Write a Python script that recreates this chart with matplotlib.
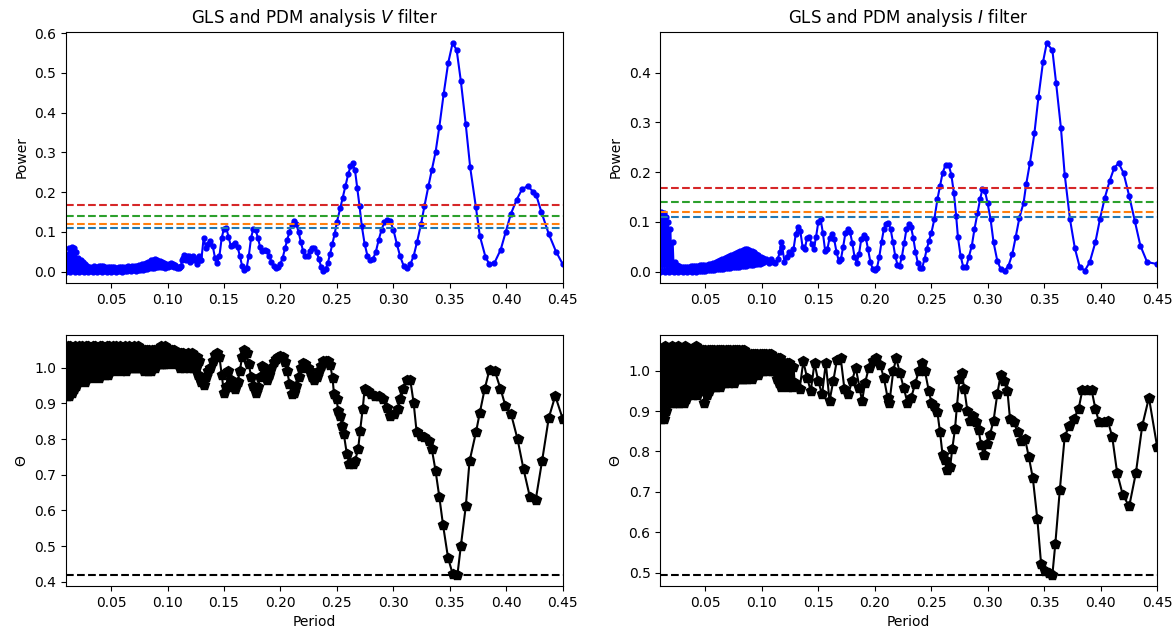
import matplotlib
matplotlib.use("Agg")
import matplotlib.pyplot as plt

# ---- GLS periodogram, V filter ----
v_gls_period = [
    0.010, 0.011, 0.012, 0.013, 0.014, 0.015, 0.016, 0.017, 0.018, 0.019,
    0.020, 0.021, 0.022, 0.023, 0.024, 0.025, 0.026, 0.027, 0.028, 0.029,
    0.030, 0.031, 0.032, 0.033, 0.034, 0.035, 0.036, 0.037, 0.038, 0.039,
    0.040, 0.041, 0.042, 0.043, 0.044, 0.045, 0.046, 0.047, 0.048, 0.049,
    0.050, 0.051, 0.052, 0.053, 0.054, 0.055, 0.056, 0.057, 0.058, 0.059,
    0.060, 0.061, 0.062, 0.063, 0.064, 0.065, 0.066, 0.067, 0.068, 0.069,
    0.070, 0.071, 0.072, 0.073, 0.074, 0.075, 0.076, 0.077, 0.078, 0.079,
    0.080, 0.081, 0.082, 0.083, 0.084, 0.085, 0.086, 0.087, 0.088, 0.089,
    0.090, 0.091, 0.092, 0.093, 0.094, 0.095, 0.096, 0.097, 0.098, 0.099,
    0.100, 0.101, 0.102, 0.103, 0.104, 0.105, 0.106, 0.107, 0.108, 0.109,
    0.110, 0.111, 0.112, 0.113, 0.114, 0.115, 0.116, 0.117, 0.118, 0.119,
    0.120, 0.121, 0.122, 0.123, 0.124, 0.125, 0.126, 0.127, 0.128, 0.129,
    0.130, 0.132, 0.134, 0.136, 0.138, 0.140, 0.142, 0.144, 0.146, 0.148,
    0.150, 0.152, 0.154, 0.156, 0.158, 0.160, 0.162, 0.164, 0.166, 0.168,
    0.170, 0.172, 0.174, 0.176, 0.178, 0.180, 0.182, 0.184, 0.186, 0.188,
    0.190, 0.192, 0.194, 0.196, 0.198, 0.200, 0.202, 0.204, 0.206, 0.208,
    0.210, 0.212, 0.214, 0.216, 0.218, 0.220, 0.222, 0.224, 0.226, 0.228,
    0.230, 0.232, 0.234, 0.236, 0.238, 0.240, 0.242, 0.244, 0.246, 0.248,
    0.250, 0.2530, 0.2550, 0.2575, 0.2600, 0.2620, 0.2640,
    0.2660, 0.2680, 0.2700, 0.2720, 0.2745, 0.2770, 0.2795, 0.2820, 0.2845, 0.2870,
    0.2895, 0.2920, 0.2945, 0.2970, 0.3000, 0.3030, 0.3060, 0.3090, 0.3120, 0.3150,
    0.3180, 0.3210, 0.3245, 0.3275, 0.3310, 0.3340, 0.3373, 0.3407, 0.3445, 0.3485,
    0.3524, 0.3560, 0.3597, 0.3640, 0.3680, 0.3730, 0.3765, 0.3815, 0.3850, 0.3895,
    0.3950, 0.3995, 0.4040, 0.4090, 0.4140, 0.4190, 0.4240, 0.4265, 0.4310, 0.4375,
    0.4440, 0.4500]
v_gls_power = [
    0.000, 0.045, 0.002, 0.058, 0.000, 0.062, 0.003, 0.058, 0.000, 0.050,
    0.002, 0.035, 0.000, 0.030, 0.002, 0.025, 0.000, 0.020, 0.001, 0.014,
    0.000, 0.012, 0.002, 0.010, 0.000, 0.013, 0.001, 0.012, 0.000, 0.014,
    0.002, 0.015, 0.000, 0.013, 0.001, 0.011, 0.000, 0.012, 0.002, 0.012,
    0.000, 0.011, 0.002, 0.012, 0.000, 0.010, 0.001, 0.012, 0.002, 0.011,
    0.000, 0.012, 0.002, 0.011, 0.001, 0.013, 0.003, 0.012, 0.002, 0.013,
    0.003, 0.014, 0.002, 0.015, 0.004, 0.016, 0.003, 0.018, 0.005, 0.020,
    0.006, 0.022, 0.007, 0.025, 0.008, 0.028, 0.009, 0.030, 0.010, 0.031,
    0.011, 0.030, 0.012, 0.027, 0.012, 0.025, 0.011, 0.022, 0.010, 0.020,
    0.012, 0.020, 0.013, 0.022, 0.014, 0.020, 0.012, 0.016, 0.010, 0.012,
    0.008, 0.012, 0.015, 0.030, 0.035, 0.042, 0.030, 0.038, 0.032, 0.040,
    0.025, 0.035, 0.030, 0.038, 0.028, 0.030, 0.020, 0.035, 0.040, 0.030,
    0.030, 0.085, 0.060, 0.070, 0.078, 0.065, 0.035, 0.022, 0.040, 0.085,
    0.108, 0.110, 0.088, 0.065, 0.068, 0.072, 0.062, 0.040, 0.015, 0.005,
    0.008, 0.040, 0.085, 0.108, 0.105, 0.085, 0.062, 0.052, 0.055, 0.052,
    0.040, 0.025, 0.014, 0.010, 0.012, 0.020, 0.035, 0.058, 0.080, 0.100,
    0.118, 0.127, 0.120, 0.100, 0.075, 0.052, 0.038, 0.040, 0.052, 0.060,
    0.058, 0.050, 0.032, 0.012, 0.001, 0.006, 0.022, 0.045, 0.070, 0.095,
    0.125, 0.160, 0.185, 0.215, 0.245, 0.265, 0.272,
    0.255, 0.210, 0.165, 0.115, 0.070, 0.040, 0.028, 0.032, 0.050, 0.080,
    0.105, 0.125, 0.130, 0.128, 0.105, 0.070, 0.038, 0.015, 0.008, 0.018,
    0.040, 0.075, 0.120, 0.165, 0.215, 0.255, 0.300, 0.365, 0.447, 0.525,
    0.575, 0.558, 0.480, 0.372, 0.262, 0.163, 0.090, 0.037, 0.018, 0.022,
    0.055, 0.100, 0.145, 0.180, 0.208, 0.215, 0.200, 0.192, 0.150, 0.095,
    0.050, 0.018]

# ---- GLS periodogram, I filter ----
i_gls_period = [
    0.010, 0.011, 0.012, 0.013, 0.014, 0.015, 0.016, 0.017, 0.018, 0.019,
    0.020, 0.021, 0.022, 0.023, 0.024, 0.025, 0.026, 0.027, 0.028, 0.029,
    0.030, 0.031, 0.032, 0.033, 0.034, 0.035, 0.036, 0.037, 0.038, 0.039,
    0.040, 0.041, 0.042, 0.043, 0.044, 0.045, 0.046, 0.047, 0.048, 0.049,
    0.050, 0.051, 0.052, 0.053, 0.054, 0.055, 0.056, 0.057, 0.058, 0.059,
    0.060, 0.061, 0.062, 0.063, 0.064, 0.065, 0.066, 0.067, 0.068, 0.069,
    0.070, 0.071, 0.072, 0.073, 0.074, 0.075, 0.076, 0.077, 0.078, 0.079,
    0.080, 0.081, 0.082, 0.083, 0.084, 0.085, 0.086, 0.087, 0.088, 0.089,
    0.090, 0.091, 0.092, 0.093, 0.094, 0.095, 0.096, 0.097, 0.098, 0.099,
    0.100, 0.101, 0.102, 0.104, 0.106, 0.108, 0.110, 0.112, 0.114, 0.116,
    0.117, 0.118, 0.120, 0.122, 0.124, 0.126, 0.128, 0.130, 0.132, 0.134,
    0.136, 0.138, 0.140, 0.142, 0.144, 0.146, 0.148, 0.150, 0.152, 0.154,
    0.156, 0.158, 0.160, 0.162, 0.164, 0.166, 0.168, 0.170, 0.172, 0.174,
    0.176, 0.178, 0.180, 0.182, 0.184, 0.186, 0.188, 0.190, 0.192, 0.194,
    0.196, 0.198, 0.200, 0.202, 0.204, 0.206, 0.208, 0.210, 0.212, 0.214,
    0.216, 0.218, 0.220, 0.222, 0.224, 0.226, 0.228, 0.230, 0.232, 0.234,
    0.236, 0.238, 0.240, 0.242, 0.244, 0.246, 0.248,
    0.2501, 0.2527, 0.2554, 0.2577, 0.2600, 0.2627, 0.2653, 0.2677, 0.2700, 0.2720,
    0.2736, 0.2759, 0.2783, 0.2809, 0.2832, 0.2859, 0.2882, 0.2909, 0.2932, 0.2952,
    0.2975, 0.2998, 0.3025, 0.3051, 0.3084, 0.3114, 0.3151, 0.3184, 0.3217, 0.3247,
    0.3280, 0.3317, 0.3340, 0.3373, 0.3413, 0.3449, 0.3489, 0.3522, 0.3572, 0.3605,
    0.3648, 0.3681, 0.3728, 0.3771, 0.3814, 0.3860, 0.3903, 0.3953, 0.3993, 0.4036,
    0.4079, 0.4119, 0.4159, 0.4202, 0.4252, 0.4301, 0.4351, 0.4411, 0.4500]
i_gls_power = [
    0.000, 0.120, 0.002, 0.118, 0.000, 0.110, 0.003, 0.100, 0.000, 0.085,
    0.002, 0.060, 0.000, 0.020, 0.002, 0.013, 0.000, 0.011, 0.001, 0.010,
    0.000, 0.010, 0.001, 0.009, 0.000, 0.010, 0.001, 0.011, 0.000, 0.011,
    0.001, 0.012, 0.000, 0.012, 0.002, 0.013, 0.001, 0.013, 0.002, 0.014,
    0.002, 0.014, 0.003, 0.015, 0.003, 0.016, 0.004, 0.017, 0.004, 0.019,
    0.005, 0.021, 0.005, 0.023, 0.006, 0.025, 0.006, 0.027, 0.007, 0.030,
    0.007, 0.032, 0.008, 0.034, 0.009, 0.036, 0.009, 0.038, 0.010, 0.040,
    0.010, 0.042, 0.011, 0.044, 0.012, 0.045, 0.012, 0.045, 0.013, 0.044,
    0.013, 0.042, 0.014, 0.040, 0.015, 0.036, 0.015, 0.033, 0.016, 0.030,
    0.017, 0.028, 0.020, 0.025, 0.018, 0.026, 0.020, 0.018, 0.025, 0.040,
    0.060, 0.050, 0.020, 0.030, 0.040, 0.035, 0.045, 0.075, 0.090, 0.082,
    0.050, 0.045, 0.068, 0.070, 0.055, 0.045, 0.070, 0.100, 0.105, 0.078,
    0.042, 0.045, 0.068, 0.075, 0.065, 0.040, 0.022, 0.025, 0.050, 0.078,
    0.086, 0.080, 0.058, 0.030, 0.018, 0.035, 0.065, 0.074, 0.068, 0.045,
    0.020, 0.006, 0.003, 0.008, 0.030, 0.060, 0.085, 0.096, 0.097, 0.085,
    0.060, 0.032, 0.014, 0.012, 0.030, 0.058, 0.085, 0.095, 0.090, 0.068,
    0.040, 0.018, 0.007, 0.008, 0.025, 0.045, 0.062,
    0.078, 0.105, 0.145, 0.172, 0.198, 0.215, 0.215, 0.195, 0.158, 0.112,
    0.069, 0.032, 0.009, 0.009, 0.029, 0.052, 0.085, 0.118, 0.145, 0.165,
    0.162, 0.138, 0.105, 0.059, 0.022, 0.005, 0.002, 0.012, 0.035, 0.069,
    0.108, 0.138, 0.175, 0.218, 0.278, 0.351, 0.421, 0.459, 0.445, 0.379,
    0.288, 0.195, 0.105, 0.047, 0.009, 0.002, 0.019, 0.059, 0.105, 0.148,
    0.182, 0.208, 0.218, 0.198, 0.152, 0.102, 0.052, 0.019, 0.015]

# ---- PDM theta, V filter ----
v_pdm_period = [
    0.010, 0.011, 0.012, 0.013, 0.014, 0.015, 0.016, 0.017, 0.018, 0.019,
    0.020, 0.021, 0.022, 0.023, 0.024, 0.025, 0.026, 0.027, 0.028, 0.029,
    0.030, 0.031, 0.032, 0.033, 0.034, 0.035, 0.036, 0.037, 0.038, 0.039,
    0.040, 0.041, 0.042, 0.043, 0.044, 0.045, 0.046, 0.047, 0.048, 0.049,
    0.050, 0.051, 0.052, 0.053, 0.054, 0.055, 0.056, 0.057, 0.058, 0.059,
    0.060, 0.061, 0.062, 0.063, 0.064, 0.065, 0.066, 0.067, 0.068, 0.069,
    0.070, 0.071, 0.072, 0.073, 0.074, 0.075, 0.076, 0.077, 0.078, 0.079,
    0.080, 0.081, 0.082, 0.083, 0.084, 0.085, 0.086, 0.087, 0.088, 0.089,
    0.090, 0.091, 0.092, 0.093, 0.094, 0.095, 0.096, 0.097, 0.098, 0.099,
    0.100, 0.101, 0.102, 0.103, 0.104, 0.105, 0.106, 0.107, 0.108, 0.109,
    0.110, 0.111, 0.112, 0.113, 0.114, 0.115, 0.116, 0.117, 0.118, 0.119,
    0.120, 0.121, 0.122, 0.123, 0.124, 0.125, 0.126, 0.127, 0.128, 0.129,
    0.130, 0.132, 0.134, 0.136, 0.138, 0.140, 0.142, 0.144, 0.146, 0.148,
    0.150, 0.152, 0.154, 0.156, 0.158, 0.160, 0.162, 0.164, 0.166, 0.168,
    0.170, 0.172, 0.174, 0.176, 0.178, 0.180, 0.182, 0.184, 0.186, 0.188,
    0.190, 0.192, 0.194, 0.196, 0.198, 0.200, 0.202, 0.204, 0.206, 0.208,
    0.210, 0.212, 0.214, 0.216, 0.218, 0.220, 0.222, 0.224, 0.226, 0.228,
    0.230, 0.232, 0.234, 0.236, 0.238, 0.240, 0.242,
    0.2440, 0.2461, 0.2474, 0.2497, 0.2511, 0.2531, 0.2544, 0.2561, 0.2588, 0.2611,
    0.2638, 0.2661, 0.2688, 0.2705, 0.2728, 0.2745, 0.2771, 0.2805, 0.2838, 0.2872,
    0.2905, 0.2939, 0.2972, 0.3006, 0.3039, 0.3062, 0.3089, 0.3116, 0.3149, 0.3179,
    0.3206, 0.3240, 0.3273, 0.3313, 0.3340, 0.3373, 0.3407, 0.3440, 0.3484, 0.3524,
    0.3567, 0.3597, 0.3641, 0.3674, 0.3731, 0.3765, 0.3808, 0.3851, 0.3898, 0.3948,
    0.3992, 0.4042, 0.4099, 0.4152, 0.4209, 0.4259, 0.4316, 0.4376, 0.4433, 0.4500]
v_pdm_theta = [
    1.05, 0.92, 1.06, 0.92, 1.06, 0.93, 1.05, 0.94, 1.06, 0.95,
    1.05, 0.96, 1.06, 0.97, 1.06, 0.97, 1.05, 0.96, 1.06, 0.97,
    1.06, 0.98, 1.05, 0.97, 1.06, 0.98, 1.06, 0.98, 1.05, 0.97,
    1.06, 0.98, 1.06, 0.99, 1.05, 0.98, 1.06, 0.98, 1.06, 0.99,
    1.05, 1.00, 1.06, 0.99, 1.06, 1.00, 1.05, 1.00, 1.06, 0.99,
    1.05, 1.00, 1.06, 0.99, 1.05, 1.00, 1.06, 1.00, 1.05, 1.00,
    1.06, 1.00, 1.05, 1.00, 1.06, 1.00, 1.05, 1.00, 1.05, 0.99,
    1.05, 1.00, 1.05, 0.99, 1.05, 0.99, 1.05, 1.00, 1.05, 1.00,
    1.05, 1.01, 1.05, 1.01, 1.06, 1.01, 1.05, 1.01, 1.06, 1.01,
    1.05, 1.02, 1.05, 1.02, 1.05, 1.01, 1.05, 1.02, 1.04, 1.01,
    1.04, 1.00, 1.04, 1.01, 1.04, 1.00, 1.03, 1.01, 1.04, 1.00,
    1.03, 1.01, 1.04, 1.00, 1.03, 1.00, 1.03, 0.98, 1.02, 0.97,
    0.960, 0.953, 0.975, 0.990, 1.000, 1.020, 1.035, 1.042, 1.030, 0.980,
    0.930, 0.945, 0.990, 0.965, 0.945, 0.940, 0.960, 0.990, 1.030, 1.050,
    1.040, 1.010, 0.975, 0.950, 0.930, 0.945, 0.975, 1.005, 0.990, 0.965,
    0.980, 1.000, 1.015, 1.025, 1.030, 1.033, 1.030, 1.015, 0.990, 0.955,
    0.926, 0.930, 0.950, 0.975, 1.000, 1.014, 1.010, 1.000, 0.990, 0.975,
    0.967, 0.975, 0.990, 1.005, 1.019, 1.020, 1.020,
    1.009, 0.972, 0.926, 0.912, 0.879, 0.865, 0.837, 0.814, 0.758, 0.730,
    0.730, 0.740, 0.772, 0.823, 0.884, 0.940, 0.935, 0.926, 0.921, 0.921,
    0.912, 0.888, 0.865, 0.870, 0.884, 0.912, 0.940, 0.967, 0.967, 0.902,
    0.819, 0.809, 0.805, 0.795, 0.772, 0.712, 0.637, 0.558, 0.467, 0.423,
    0.420, 0.500, 0.612, 0.738, 0.819, 0.874, 0.940, 0.995, 0.991, 0.941,
    0.893, 0.870, 0.800, 0.716, 0.637, 0.628, 0.738, 0.860, 0.921, 0.856]

# ---- PDM theta, I filter ----
i_pdm_period = [
    0.010, 0.011, 0.012, 0.013, 0.014, 0.015, 0.016, 0.017, 0.018, 0.019,
    0.020, 0.021, 0.022, 0.023, 0.024, 0.025, 0.026, 0.027, 0.028, 0.029,
    0.030, 0.031, 0.032, 0.033, 0.034, 0.035, 0.036, 0.037, 0.038, 0.039,
    0.040, 0.041, 0.042, 0.043, 0.044, 0.045, 0.046, 0.047, 0.048, 0.049,
    0.050, 0.051, 0.052, 0.053, 0.054, 0.055, 0.056, 0.057, 0.058, 0.059,
    0.060, 0.061, 0.062, 0.063, 0.064, 0.065, 0.066, 0.067, 0.068, 0.069,
    0.070, 0.071, 0.072, 0.073, 0.074, 0.075, 0.076, 0.077, 0.078, 0.079,
    0.080, 0.081, 0.082, 0.083, 0.084, 0.085, 0.086, 0.087, 0.088, 0.089,
    0.090, 0.091, 0.092, 0.093, 0.094, 0.095, 0.096, 0.097, 0.098, 0.099,
    0.100, 0.101, 0.102, 0.103, 0.104, 0.105, 0.106, 0.107, 0.108, 0.109,
    0.110, 0.111, 0.112, 0.113, 0.114, 0.115, 0.116, 0.117, 0.118, 0.119,
    0.120, 0.121, 0.122, 0.123, 0.124, 0.125, 0.126, 0.127, 0.128, 0.129,
    0.1334, 0.1367, 0.1400, 0.1433, 0.1466, 0.1499, 0.1533, 0.1566, 0.1599, 0.1632,
    0.1665, 0.1698, 0.1731, 0.1765, 0.1798, 0.1831, 0.1864, 0.1887, 0.1914, 0.1947,
    0.1980, 0.2013, 0.2047, 0.2080, 0.2113, 0.2129, 0.2163, 0.2189, 0.2222, 0.2255,
    0.2289, 0.2322, 0.2355, 0.2388, 0.2421,
    0.2444, 0.2478, 0.2501, 0.2527, 0.2554, 0.2577, 0.2600, 0.2620, 0.2643, 0.2667,
    0.2686, 0.2710, 0.2726, 0.2749, 0.2769, 0.2793, 0.2819, 0.2842, 0.2866, 0.2892,
    0.2919, 0.2942, 0.2965, 0.2992, 0.3018, 0.3051, 0.3084, 0.3114, 0.3141, 0.3174,
    0.3197, 0.3230, 0.3264, 0.3297, 0.3330, 0.3363, 0.3399, 0.3439, 0.3472, 0.3505,
    0.3539, 0.3572, 0.3598, 0.3638, 0.3681, 0.3721, 0.3761, 0.3804, 0.3837, 0.3880,
    0.3920, 0.3953, 0.3986, 0.4026, 0.4063, 0.4102, 0.4146, 0.4195, 0.4252, 0.4311,
    0.4368, 0.4427, 0.4500]
i_pdm_theta = [
    1.05, 0.88, 1.05, 0.88, 1.06, 0.90, 1.05, 0.93, 1.05, 0.92,
    1.06, 0.92, 1.05, 0.93, 1.05, 0.92, 1.06, 0.92, 1.05, 0.93,
    1.05, 0.92, 1.06, 0.93, 1.05, 0.94, 1.05, 0.95, 1.05, 0.94,
    1.05, 0.95, 1.06, 0.94, 1.05, 0.96, 1.05, 0.95, 1.05, 0.92,
    1.05, 0.94, 1.05, 0.95, 1.05, 0.96, 1.05, 0.96, 1.05, 0.96,
    1.05, 0.97, 1.05, 0.96, 1.05, 0.97, 1.05, 0.97, 1.05, 0.98,
    1.05, 0.97, 1.05, 0.98, 1.05, 0.97, 1.05, 0.98, 1.05, 0.98,
    1.05, 0.98, 1.05, 0.98, 1.05, 0.98, 1.04, 0.98, 1.04, 0.99,
    1.04, 0.98, 1.04, 0.99, 1.04, 1.00, 1.04, 0.99, 1.04, 1.00,
    1.04, 1.00, 1.04, 1.01, 1.04, 1.00, 1.04, 1.01, 1.04, 1.00,
    1.03, 1.00, 1.03, 0.98, 1.03, 0.97, 1.03, 0.96, 1.02, 0.97,
    1.02, 0.98, 1.02, 0.96, 1.02, 0.97, 1.01, 0.96, 1.01, 0.97,
    0.954, 1.023, 0.982, 0.950, 1.019, 0.974, 0.941, 1.019, 0.925, 0.974,
    1.027, 1.031, 0.954, 0.941, 0.974, 1.007, 0.958, 0.925, 0.970, 1.007,
    1.023, 1.031, 1.015, 0.982, 0.933, 0.921, 0.998, 1.031, 0.994, 0.958,
    0.921, 0.933, 0.966, 0.998, 1.019,
    0.998, 0.950, 0.921, 0.913, 0.897, 0.848, 0.791, 0.778, 0.754, 0.762,
    0.807, 0.856, 0.909, 0.978, 0.994, 0.954, 0.901, 0.876, 0.888, 0.872,
    0.852, 0.815, 0.791, 0.819, 0.840, 0.876, 0.941, 0.990, 0.974, 0.950,
    0.880, 0.872, 0.848, 0.827, 0.831, 0.787, 0.734, 0.632, 0.522, 0.503,
    0.498, 0.495, 0.571, 0.705, 0.836, 0.864, 0.880, 0.905, 0.951, 0.951,
    0.951, 0.905, 0.872, 0.872, 0.876, 0.836, 0.746, 0.693, 0.664, 0.746,
    0.864, 0.933, 0.811]

# seuils de significativite du GLS (bleu, orange, vert, rouge)
v_levels = [0.110, 0.120, 0.139, 0.168]
i_levels = [0.109, 0.120, 0.139, 0.168]
level_colors = ['tab:blue', 'tab:orange', 'tab:green', 'tab:red']

fig, axs = plt.subplots(2, 2, figsize=(11.76, 6.35), dpi=100)
fig.subplots_adjust(left=0.056, right=0.984, top=0.950, bottom=0.077,
                    wspace=0.196, hspace=0.207)

colonnes = [
    ('V', v_gls_period, v_gls_power, v_levels, v_pdm_period, v_pdm_theta),
    ('I', i_gls_period, i_gls_power, i_levels, i_pdm_period, i_pdm_theta),
]

for j, (filt, gp, gpow, levels, pp, theta) in enumerate(colonnes):
    # GLS en haut
    ax = axs[0, j]
    ax.plot(gp, gpow, 'b-', marker='o', markersize=3.5, linewidth=1.5)
    for lev, c in zip(levels, level_colors):
        ax.axhline(lev, color=c, linestyle='--')
    ax.set_xlim(0.01, 0.45)
    ax.set_ylabel('Power')
    ax.set_title('GLS and PDM analysis $' + filt + '$ filter')

    # PDM en bas
    ax = axs[1, j]
    ax.plot(pp, theta, 'k-', marker='p', markersize=7, linewidth=1.5)
    ax.axhline(min(theta), color='k', linestyle='--')
    ax.set_xlim(0.01, 0.45)
    ax.set_xlabel('Period')
    ax.set_ylabel(r'$\Theta$')

for ax in axs.flat:
    ax.set_xticks([0.05, 0.10, 0.15, 0.20, 0.25, 0.30, 0.35, 0.40, 0.45])
    ax.set_xticklabels(['0.05', '0.10', '0.15', '0.20', '0.25', '0.30', '0.35', '0.40', '0.45'])

fig.savefig('out.png', dpi=100)
